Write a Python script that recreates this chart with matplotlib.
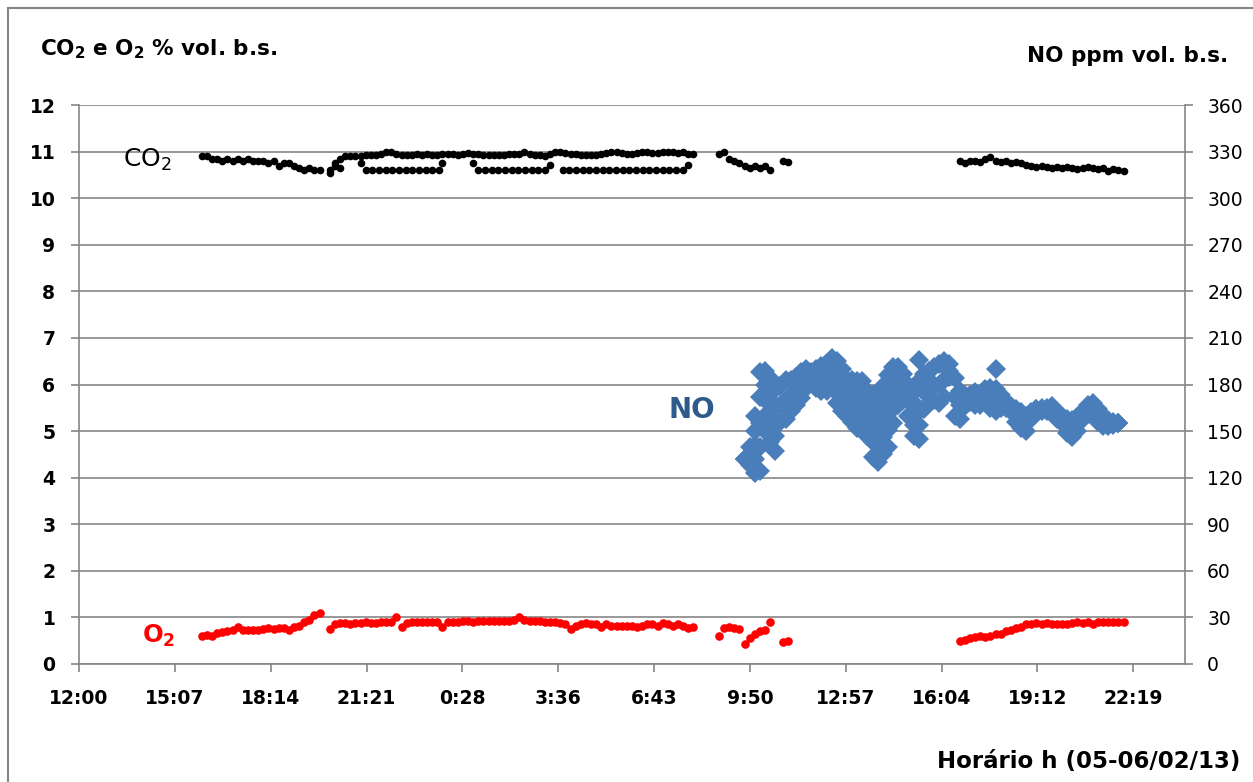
import numpy as np
import matplotlib
matplotlib.use('Agg')
import matplotlib.pyplot as plt
from matplotlib.lines import Line2D

plt.rcParams['font.family'] = ['DejaVu Sans']
plt.rcParams['mathtext.fontset'] = 'dejavusans'

# logger intervals, minutes
STEP_MIN = 10
LOW_STEP_MIN = 13

# x axis: hours after 12:00 on 05/02
x_tick_labels = ['12:00', '15:07', '18:14', '21:21', '0:28', '3:36', '6:43',
                 '9:50', '12:57', '16:04', '19:12', '22:19']

# segments: (start clock, day offset)
seg1_start = ('16:00', 0)
seg2_start = ('20:10', 0)
seg3_start = ('08:50', 1)
seg4_start = ('10:55', 1)
seg5_start = ('16:40', 1)
no_start = ('09:40', 1)
row1_start = ('21:20', 0)
row2_start = ('01:00', 1)
row3_start = ('03:45', 1)

# CO2 % vol
co2_seg1 = [10.9, 10.9, 10.85, 10.85, 10.8, 10.85, 10.8, 10.85, 10.8, 10.85, 10.8, 10.8,
            10.8, 10.75, 10.8, 10.7, 10.75, 10.75, 10.7, 10.65, 10.6, 10.65, 10.6, 10.6]
co2_seg2 = [10.6, 10.75, 10.85, 10.9, 10.9, 10.9, 10.9, 10.92, 10.92, 10.92, 10.95, 11.0,
            11.0, 10.95, 10.92, 10.92, 10.92, 10.95, 10.92, 10.95, 10.92, 10.92, 10.95, 10.95,
            10.95, 10.92, 10.95, 10.98, 10.95, 10.95, 10.92, 10.92, 10.92, 10.92, 10.92, 10.95,
            10.95, 10.95, 11.0, 10.95, 10.92, 10.92, 10.9, 10.95, 11.0, 11.0, 10.98, 10.95,
            10.95, 10.92, 10.92, 10.92, 10.92, 10.95, 10.98, 11.0, 11.0, 10.98, 10.95, 10.95,
            10.98, 11.0, 11.0, 10.98, 10.98, 11.0, 11.0, 11.0, 10.98, 11.0, 10.95, 10.95]
co2_row1 = [10.6, 10.6, 10.6, 10.6, 10.6, 10.6, 10.6, 10.6, 10.6, 10.6, 10.6, 10.6]
co2_row2 = [10.6, 10.6, 10.6, 10.6, 10.6, 10.6, 10.6, 10.6, 10.6, 10.6, 10.6]
co2_row3 = [10.6, 10.6, 10.6, 10.6, 10.6, 10.6, 10.6, 10.6, 10.6, 10.6, 10.6, 10.6,
            10.6, 10.6, 10.6, 10.6, 10.6, 10.6, 10.6]
co2_extra_clock = ['20:10', '20:20', '20:30', '21:10', '23:50', '00:50', '03:20', '07:50']
co2_extra_day = [0, 0, 0, 0, 0, 1, 1, 1]
co2_extra = [10.55, 10.7, 10.65, 10.75, 10.75, 10.75, 10.72, 10.72]
co2_seg3 = [10.95, 11.0, 10.85, 10.8, 10.75, 10.7, 10.65, 10.7, 10.65, 10.7, 10.6]
co2_seg4 = [10.8, 10.78]
co2_seg5 = [10.8, 10.75, 10.8, 10.8, 10.78, 10.85, 10.88, 10.8, 10.78, 10.8, 10.75, 10.78,
            10.75, 10.72, 10.7, 10.68, 10.7, 10.68, 10.65, 10.68, 10.65, 10.68, 10.65, 10.62,
            10.65, 10.68, 10.65, 10.62, 10.65, 10.58, 10.62, 10.6, 10.58]

# O2 % vol
o2_seg1 = [0.6, 0.62, 0.6, 0.66, 0.68, 0.7, 0.72, 0.8, 0.72, 0.72, 0.73, 0.74,
           0.76, 0.78, 0.76, 0.78, 0.78, 0.72, 0.8, 0.82, 0.9, 0.95, 1.05, 1.1]
o2_seg2 = [0.75, 0.85, 0.88, 0.88, 0.85, 0.88, 0.88, 0.9, 0.88, 0.88, 0.9, 0.9,
           0.9, 1.0, 0.8, 0.88, 0.9, 0.9, 0.9, 0.9, 0.9, 0.9, 0.8, 0.9,
           0.9, 0.9, 0.92, 0.92, 0.9, 0.92, 0.92, 0.92, 0.92, 0.92, 0.92, 0.92,
           0.95, 1.0, 0.95, 0.92, 0.92, 0.92, 0.9, 0.9, 0.9, 0.88, 0.85, 0.75,
           0.82, 0.85, 0.88, 0.85, 0.85, 0.8, 0.85, 0.82, 0.82, 0.82, 0.82, 0.82,
           0.8, 0.82, 0.85, 0.85, 0.82, 0.88, 0.85, 0.82, 0.85, 0.82, 0.78, 0.8]
o2_seg3 = [0.6, 0.78, 0.8, 0.78, 0.75, 0.42, 0.55, 0.65, 0.7, 0.72, 0.9]
o2_seg4 = [0.48, 0.5]
o2_seg5 = [0.5, 0.52, 0.55, 0.58, 0.6, 0.58, 0.6, 0.65, 0.65, 0.7, 0.72, 0.78,
           0.8, 0.85, 0.85, 0.88, 0.85, 0.88, 0.85, 0.85, 0.85, 0.85, 0.88, 0.9,
           0.88, 0.9, 0.85, 0.9, 0.9, 0.9, 0.9, 0.9, 0.9]

# NO ppm vol (spread of readings in each interval)
nan = np.nan
no_high = [132, 140, 160, 188, 189, 184, 177, 179, 183, 183, 185, 188, 190, 188, 190, 192,
           194, 197, 195, 190, 183, 183, 182, 182, 176, 173, 174, 179, 186, 191, 191, 187,
           180, 175, 196, 187, 189, 191, 193, 195, 193, 184, 176, 173, 173, 175, 173, 177,
           178, 190, 173, 169, 166, 164, 162, 160, 162, 164, 165, 165, 166, 162, 160, 158,
           157, 159, 163, 167, 168, 164, 160, 157, 156, 155]
no_upper = [nan, nan, 150, 172, 180, 174, 167, nan, nan, nan, nan, nan, nan, nan, nan, nan,
            nan, nan, 188, 183, nan, 177, 175, 175, 169, 163, 163, 168, 175, 182, nan, nan,
            nan, 168, 182, nan, nan, nan, nan, nan, nan, nan, nan, nan, nan, nan, nan, nan,
            nan, 177, nan, nan, nan, nan, nan, nan, nan, nan, nan, nan, nan, nan, nan, nan,
            nan, nan, nan, nan, nan, nan, nan, nan, nan, nan]
no_mid = [132, 134, 141, 155, 170, 163, 157, 167, 170, 173, 176, 180, 184, 185, 184, 184,
          185, 188, 182, 176, 172, 170, 167, 168, 162, 153, 152, 157, 163, 173, 179, 178,
          170, 161, 163, 175, 178, 180, 180, 183, 189, 172, 167, 170, 171, 171, 170, 173,
          171, 170, 169, 167, 165, 160, 157, 155, 160, 164, 164, 164, 164, 160, 157, 153,
          151, 155, 160, 164, 165, 160, 156, 155, 155, 155]
no_lower = [nan, nan, 132, 140, 160, 153, 147, nan, nan, nan, nan, nan, nan, nan, nan, nan,
            nan, nan, 175, 170, nan, 163, 160, 162, 155, 143, 141, 146, 151, 164, nan, nan,
            nan, 154, 154, nan, nan, nan, nan, nan, nan, nan, nan, nan, nan, nan, nan, nan,
            nan, nan, nan, nan, nan, nan, nan, nan, nan, nan, nan, nan, nan, nan, nan, nan,
            nan, nan, nan, nan, nan, nan, nan, nan, nan, nan]
no_low = [132, 128, 123, 124, 150, 143, 137, 156, 158, 163, 167, 171, 178, 182, 178, 176,
          176, 178, 168, 163, 160, 156, 152, 155, 147, 133, 130, 135, 140, 155, 167, 170,
          160, 147, 145, 164, 168, 170, 168, 172, 185, 160, 158, 166, 169, 167, 167, 169,
          165, 163, 165, 165, 163, 156, 152, 150, 158, 163, 163, 163, 162, 158, 155, 149,
          146, 150, 158, 161, 162, 156, 153, 153, 154, 155]


def clock_hours(clock, day):
    hh, mm = map(int, clock.split(':'))
    return day * 24 + hh + mm / 60 - 12


def seg_hours(start, n, step=STEP_MIN):
    return clock_hours(*start) + np.arange(n) * step / 60


co2_t = np.concatenate([
    seg_hours(seg1_start, len(co2_seg1)), seg_hours(seg2_start, len(co2_seg2)),
    seg_hours(row1_start, len(co2_row1), LOW_STEP_MIN),
    seg_hours(row2_start, len(co2_row2), LOW_STEP_MIN),
    seg_hours(row3_start, len(co2_row3), LOW_STEP_MIN),
    [clock_hours(c, d) for c, d in zip(co2_extra_clock, co2_extra_day)],
    seg_hours(seg3_start, len(co2_seg3)), seg_hours(seg4_start, len(co2_seg4)),
    seg_hours(seg5_start, len(co2_seg5))])
co2_v = np.concatenate([co2_seg1, co2_seg2, co2_row1, co2_row2, co2_row3, co2_extra,
                        co2_seg3, co2_seg4, co2_seg5])

o2_t = np.concatenate([seg_hours(seg1_start, len(o2_seg1)), seg_hours(seg2_start, len(o2_seg2)),
                       seg_hours(seg3_start, len(o2_seg3)), seg_hours(seg4_start, len(o2_seg4)),
                       seg_hours(seg5_start, len(o2_seg5))])
o2_v = np.concatenate([o2_seg1, o2_seg2, o2_seg3, o2_seg4, o2_seg5])

no_h = seg_hours(no_start, len(no_high))
no_t = np.concatenate([no_h] * 5)
no_v = np.concatenate([no_low, no_lower, no_mid, no_upper, no_high])

grey = '#868686'

fig = plt.figure(figsize=(12.53, 7.82), dpi=100)
ax = fig.add_axes([0.063, 0.1509, 0.8827, 0.7148])

ax.plot(co2_t, co2_v, 'o', color='black', ms=5.5, mew=0, zorder=3)
ax.plot(o2_t, o2_v, 'o', color='#FF0000', ms=6.2, mew=0, zorder=3)

ax.set_xlim(0, 36)
ax.set_ylim(0, 12)
ax.set_yticks(range(0, 13))
ax.set_xticks(np.arange(len(x_tick_labels)) * 3.12)
ax.set_xticklabels(x_tick_labels)
ax.set_axisbelow(True)
ax.yaxis.grid(True, color=grey, lw=1.2)
for s in ['top', 'right']:
    ax.spines[s].set_visible(False)
for s in ['left', 'bottom']:
    ax.spines[s].set_color(grey)
    ax.spines[s].set_linewidth(1.2)
ax.tick_params(axis='y', direction='out', length=6, width=1.2, color=grey, pad=11,
               labelsize=13.5)
ax.tick_params(axis='x', direction='out', length=6, width=1.2, color=grey, pad=12,
               labelsize=13.5)
for lab in ax.get_yticklabels() + ax.get_xticklabels():
    lab.set_fontweight('bold')

ax2 = ax.twinx()
ax2.plot(no_t, no_v, 'D', color='#4A7EBB', ms=10, mew=0, zorder=3)
ax2.set_ylim(0, 360)
ax2.set_yticks(range(0, 361, 30))
for s in ['top', 'left', 'bottom']:
    ax2.spines[s].set_visible(False)
ax2.spines['right'].set_color(grey)
ax2.spines['right'].set_linewidth(1.2)
ax2.tick_params(axis='y', direction='out', length=6, width=1.2, color=grey, pad=10,
                labelsize=13.5)

# series labels
ax.text(1.45, 10.67, r'CO$_\mathrm{2}$', fontsize=18, color='black', va='baseline')
ax.text(2.05, 0.45, r'O$_\mathbf{2}$', fontsize=17.5, color='#FF0000', fontweight='bold',
        va='baseline')
ax.text(19.2, 5.28, 'NO', fontsize=20, color='#2E5A8C', fontweight='bold', va='baseline')

# axis titles
fig.text(0.032, 0.9297, r'CO$_\mathbf{2}$ e O$_\mathbf{2}$ % vol. b.s.', fontsize=15.5,
         fontweight='bold', va='baseline', ha='left')
fig.text(0.980, 0.9207, 'NO ppm vol. b.s.', fontsize=15.5, fontweight='bold', va='baseline',
         ha='right')
fig.text(0.990, 0.0179, 'Horário h (05-06/02/13)', fontsize=16.5, fontweight='bold',
         va='baseline', ha='right')

# chart border (left and top edges visible)
fig.add_artist(Line2D([8 / 1253, 8 / 1253], [0, 1 - 8 / 782], transform=fig.transFigure,
                      color=grey, lw=1.5))
fig.add_artist(Line2D([8 / 1253, 1], [1 - 8 / 782, 1 - 8 / 782], transform=fig.transFigure,
                      color=grey, lw=1.5))

fig.savefig('out.png', dpi=100)
